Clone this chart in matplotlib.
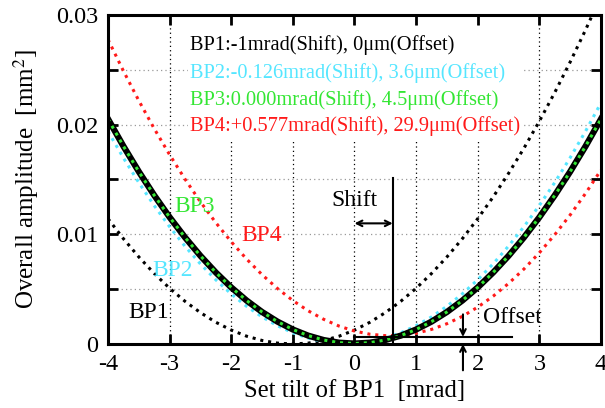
import matplotlib
matplotlib.use("Agg")
import matplotlib.pyplot as plt
from matplotlib.patches import Rectangle

plt.rcParams['font.family'] = ['Liberation Serif', 'DejaVu Serif']
plt.rcParams['mathtext.fontset'] = 'stix'

# tilt of BP1 [mrad]
tilt = [-4, -3.75, -3.5, -3.25, -3, -2.75, -2.5, -2.25, -2, -1.75, -1.5, -1.25, -1, -0.75,
        -0.5, -0.25, 0, 0.25, 0.5, 0.75, 1, 1.25, 1.5, 1.75, 2, 2.25, 2.5, 2.75, 3, 3.25,
        3.5, 3.75, 4]
# overall amplitude [mm^2]
bp1 = [0.01143, 0.00960, 0.00794, 0.00643, 0.00508, 0.00389, 0.00286, 0.00198, 0.00127,
       0.00071, 0.00032, 0.00008, 0.0, 0.00008, 0.00032, 0.00071, 0.00127, 0.00198,
       0.00286, 0.00389, 0.00508, 0.00643, 0.00794, 0.00960, 0.01143, 0.01341, 0.01556,
       0.01786, 0.02032, 0.02294, 0.02572, 0.02865, 0.03175]
bp2 = [0.01939, 0.01697, 0.01472, 0.01262, 0.01069, 0.00891, 0.00730, 0.00585, 0.00456,
       0.00343, 0.00247, 0.00166, 0.00102, 0.00053, 0.00021, 0.00005, 0.00005, 0.00021,
       0.00054, 0.00102, 0.00167, 0.00247, 0.00344, 0.00457, 0.00586, 0.00731, 0.00893,
       0.01070, 0.01264, 0.01473, 0.01699, 0.01941, 0.02199]
bp3 = [0.02052, 0.01804, 0.01572, 0.01356, 0.01156, 0.00972, 0.00804, 0.00652, 0.00516,
       0.00396, 0.00292, 0.00204, 0.00132, 0.00076, 0.00036, 0.00012, 0.00004, 0.00012,
       0.00036, 0.00076, 0.00132, 0.00204, 0.00292, 0.00396, 0.00516, 0.00652, 0.00804,
       0.00972, 0.01156, 0.01356, 0.01572, 0.01804, 0.02052]
bp4 = [0.02777, 0.02490, 0.02219, 0.01964, 0.01726, 0.01503, 0.01296, 0.01106, 0.00932,
       0.00774, 0.00632, 0.00506, 0.00396, 0.00302, 0.00225, 0.00163, 0.00118, 0.00089,
       0.00076, 0.00079, 0.00098, 0.00133, 0.00185, 0.00252, 0.00336, 0.00436, 0.00552,
       0.00684, 0.00832, 0.00997, 0.01177, 0.01374, 0.01587]

legend_lines = ["BP1:-1mrad(Shift), 0\u03bcm(Offset)",
                "BP2:-0.126mrad(Shift), 3.6\u03bcm(Offset)",
                "BP3:0.000mrad(Shift), 4.5\u03bcm(Offset)",
                "BP4:+0.577mrad(Shift), 29.9\u03bcm(Offset)"]

CYAN = '#55e6ff'
GREEN = '#33e633'
RED = '#ff1a1a'
dots = (0, (1, 1.6))

fig = plt.figure(figsize=(6.05, 4.08), dpi=100)
ax = fig.add_axes([0.1785, 0.1569, 0.8149, 0.8063])

# grid
for gx in range(-3, 4):
    ax.axvline(gx, color='black', lw=0.9, ls=(0, (1, 2.5)), zorder=0)
for gy in [0.005, 0.01, 0.015, 0.02, 0.025]:
    ax.axhline(gy, color='#999999', lw=0.9, ls=(0, (1, 2.5)), zorder=0)

# white background behind the text block
ax.add_patch(Rectangle((-2.70, 0.0184), 5.42, 0.0105, facecolor='white',
                       edgecolor='none', zorder=1))

ax.plot(tilt, bp1, color='black', lw=2.2, ls=dots, zorder=2)
ax.plot(tilt, bp2, color=CYAN, lw=2.2, ls=dots, zorder=2)
ax.plot(tilt, bp4, color=RED, lw=2.2, ls=dots, zorder=2)
ax.plot(tilt, bp3, color='black', lw=4.5, zorder=3)
ax.plot(tilt, bp3, color=GREEN, lw=2.2, ls=dots, zorder=4)

# curve names
ax.text(-2.6, 0.0125, "BP3", color=GREEN, fontsize=17, ha='center', va='center')
ax.text(-1.5, 0.0099, "BP4", color=RED, fontsize=17, ha='center', va='center')
ax.text(-2.95, 0.0067, "BP2", color=CYAN, fontsize=17, ha='center', va='center')
ax.text(-3.34, 0.0029, "BP1", color='black', fontsize=17, ha='center', va='center')

# legend-like text block
for txt, col, yy in zip(legend_lines, ['black', CYAN, GREEN, RED],
                        [0.02726, 0.02471, 0.02225, 0.01988]):
    ax.text(-2.67, yy, txt, color=col, fontsize=14.7, ha='left', va='center', zorder=5)

# shift annotation
ax.plot([0.62, 0.62], [0, 0.0151], color='black', lw=1.5, zorder=5)
ax.annotate("", xy=(0.0, 0.011), xytext=(0.62, 0.011),
            arrowprops=dict(arrowstyle='<->', color='black', lw=1.5, shrinkA=0, shrinkB=0))
ax.text(0.0, 0.0131, "Shift", fontsize=17, ha='center', va='center')

# offset annotation
ax.plot([0, 2.55], [0.00064, 0.00064], color='black', lw=1.5, zorder=5)
ax.annotate("", xy=(1.76, 0.00064), xytext=(1.76, 0.0027),
            arrowprops=dict(arrowstyle='->', color='black', lw=1.5, shrinkA=0, shrinkB=0))
ax.annotate("", xy=(1.76, 0.0), xytext=(1.76, -0.0024),
            arrowprops=dict(arrowstyle='->', color='black', lw=1.5, shrinkA=0, shrinkB=0),
            annotation_clip=False)
ax.text(2.08, 0.0024, "Offset", fontsize=17, ha='left', va='center')

ax.set_xlim(-4, 4)
ax.set_ylim(0, 0.03)
ax.set_xticks(range(-4, 5))
ax.set_xticklabels([str(v) for v in range(-4, 5)])
ax.set_yticks([0, 0.005, 0.01, 0.015, 0.02, 0.025, 0.03])
ax.set_yticklabels(['0', '', '0.01', '', '0.02', '', '0.03'])
ax.tick_params(direction='in', length=7, width=2, labelsize=17.5, top=True, right=True,
               pad=7)
for sp in ax.spines.values():
    sp.set_linewidth(2.2)
    sp.set_zorder(6)

ax.set_xlabel("Set tilt of BP1  [mrad]", fontsize=17.8, labelpad=4)
ax.set_ylabel("Overall amplitude  [mm$^2$]", fontsize=18, labelpad=11)

fig.savefig("out.png", dpi=100)
